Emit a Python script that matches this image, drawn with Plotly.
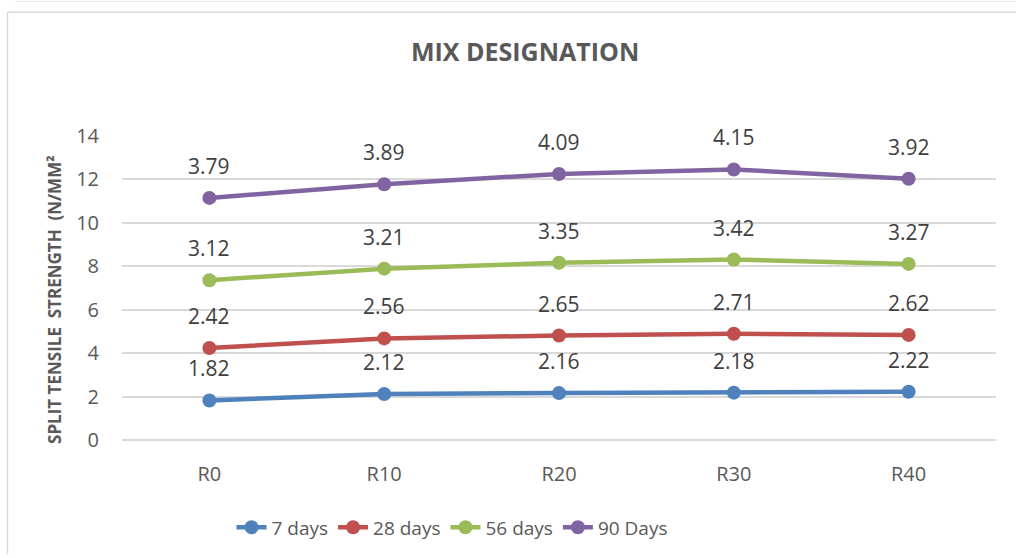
import numpy as np
import plotly.graph_objects as go

# Mix designations and split tensile strength per curing age (N/mm²)
mixes = ["R0", "R10", "R20", "R30", "R40"]
days_7 = [1.82, 2.12, 2.16, 2.18, 2.22]
days_28 = [2.42, 2.56, 2.65, 2.71, 2.62]
days_56 = [3.12, 3.21, 3.35, 3.42, 3.27]
days_90 = [3.79, 3.89, 4.09, 4.15, 3.92]

series_names = ["7 days", "28 days", "56 days", "90 Days"]
series_values = [days_7, days_28, days_56, days_90]
series_colors = ["#4F81BD", "#C0504D", "#9BBB59", "#8064A2"]

y_ticks = [0, 2, 4, 6, 8, 10, 12, 14]

FONT = "'Open Sans', sans-serif"
W, H = 1016, 558
ML, MR, MT, MB = 122, 20, 136, 116

fig = go.Figure()

# Stacked lines: each series sits on top of the running total below it
running = np.zeros(len(mixes))
annotations = []
for name, vals, col in zip(series_names, series_values, series_colors):
    running = running + np.array(vals)
    fig.add_trace(go.Scatter(
        x=mixes, y=running.round(2), name=name,
        mode="lines+markers",
        line=dict(color=col, width=4.5),
        marker=dict(color=col, size=14),
    ))
    for m, v, top in zip(mixes, vals, running):
        annotations.append(dict(
            x=m, y=top, xref="x", yref="y", text=f"{v:.2f}",
            showarrow=False, yshift=32,
            xanchor="center", yanchor="middle",
            font=dict(family=FONT, size=21, color="#404040"),
        ))

pw = W - ML - MR
ph = H - MT - MB
def px_x(px):
    return (px - ML) / pw
def px_y(py):
    return 1 - (py - MT) / ph

annotations.append(dict(
    x=px_x(525), y=px_y(50), xref="paper", yref="paper",
    xanchor="center", yanchor="middle",
    text="<b>MIX DESIGNATION</b>", showarrow=False,
    font=dict(family=FONT, size=25, color="#595959"),
))
annotations.append(dict(
    x=px_x(55), y=px_y(301), xref="paper", yref="paper",
    xanchor="center", yanchor="middle",
    text="<b>SPLIT TENSILE  STRENGTH  (N/MM²</b>", showarrow=False,
    textangle=-90,
    font=dict(family=FONT, size=17, color="#595959"),
))

shapes = [
    # chart frame
    dict(type="line", xref="paper", yref="paper",
         x0=px_x(7.5), x1=px_x(1020), y0=px_y(11.5), y1=px_y(11.5),
         line=dict(color="#D9D9D9", width=1.5)),
    dict(type="line", xref="paper", yref="paper",
         x0=px_x(7.5), x1=px_x(7.5), y0=px_y(11.5), y1=px_y(557),
         line=dict(color="#D9D9D9", width=1.5)),
    dict(type="line", xref="paper", yref="paper",
         x0=px_x(15), x1=px_x(1020), y0=px_y(0.5), y1=px_y(0.5),
         line=dict(color="#E6E6E6", width=1)),
]

fig.update_layout(
    width=W, height=H,
    margin=dict(l=ML, r=MR, t=MT, b=MB, pad=0),
    paper_bgcolor="white", plot_bgcolor="white",
    font=dict(family=FONT, color="#595959"),
    showlegend=True,
    legend=dict(
        orientation="h", x=px_x(452), xanchor="center",
        y=px_y(530), yanchor="middle",
        font=dict(family=FONT, size=19, color="#595959"),
        itemwidth=30, tracegroupgap=0,
    ),
    annotations=annotations,
    shapes=shapes,
)
fig.update_xaxes(
    range=[-0.5, 4.5], showgrid=False, zeroline=False, showline=False,
    ticks="", tickfont=dict(family=FONT, size=20, color="#595959"),
    ticklabelstandoff=20, fixedrange=True,
)
fig.update_yaxes(
    range=[0, 14], tickvals=y_ticks, showgrid=True,
    gridcolor="#D9D9D9", gridwidth=1.5,
    zeroline=True, zerolinecolor="#D9D9D9", zerolinewidth=1.5,
    showline=False,
    ticks="", tickfont=dict(family=FONT, size=20, color="#595959"),
    ticklabelstandoff=22, fixedrange=True,
)

fig.write_html("out.html")
